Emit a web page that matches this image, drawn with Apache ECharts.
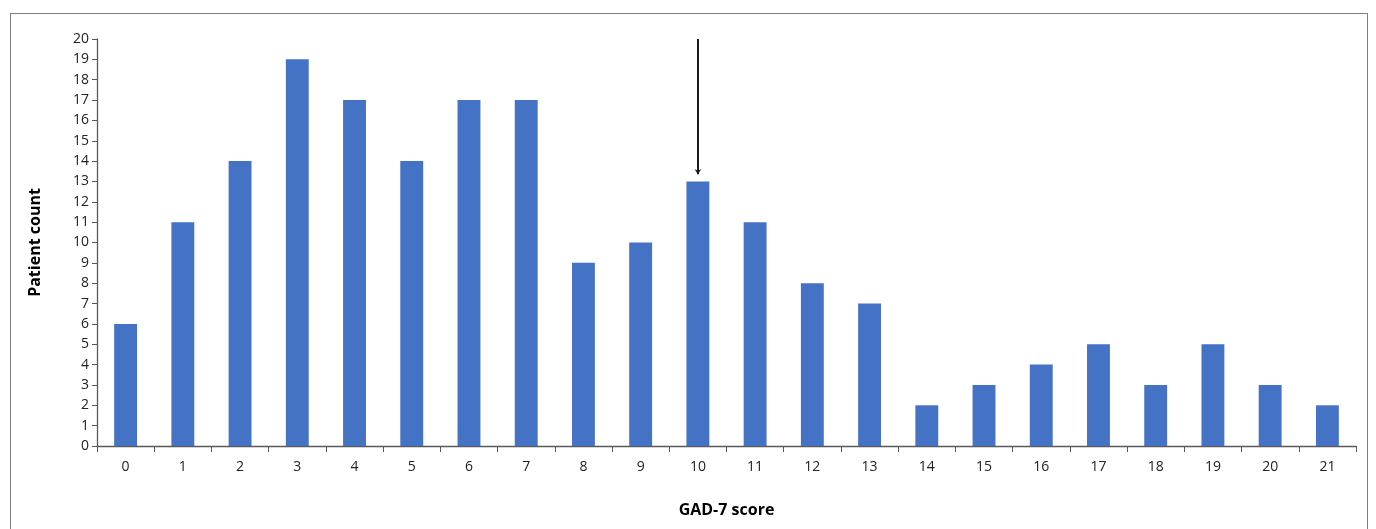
<!DOCTYPE html>
<html>
<head>
<meta charset="utf-8">
<script src="https://cdn.jsdelivr.net/npm/echarts@6/dist/echarts.min.js"></script>
<style>
  html, body { margin: 0; padding: 0; background: #fff; }
  #frame { position: absolute; left: 10px; top: 13px; width: 1356px; height: 530px; border: 1px solid #7f7f7f; }
  #chart { position: absolute; left: 0; top: 0; width: 1376px; height: 529px; }
</style>
</head>
<body>
<div id="frame"></div>
<div id="chart"></div>
<script>
// GAD-7 score categories and patient counts
const scores = ['0','1','2','3','4','5','6','7','8','9','10','11','12','13','14','15','16','17','18','19','20','21']
const patientCounts = [6, 11, 14, 19, 17, 14, 17, 17, 9, 10, 13, 11, 8, 7, 2, 3, 4, 5, 3, 5, 3, 2]
// arrow marks the cut-off score
const cutoffScore = '10'
const arrowFrom = 20
const arrowTo = 13.35

const font = '"Open Sans", "Noto Sans", sans-serif'
const axisColor = '#595959'

const chart = echarts.init(document.getElementById('chart'))
chart.setOption({
  animation: false,
  grid: { left: 97, right: 20, top: 39, bottom: 83 },
  xAxis: {
    type: 'category',
    data: scores,
    name: 'GAD-7 score',
    nameLocation: 'middle',
    nameGap: 56,
    nameTextStyle: { fontFamily: font, fontSize: 16, fontWeight: 'bold', color: '#000' },
    axisLine: { lineStyle: { color: axisColor, width: 1.3 } },
    axisTick: { show: true, length: 6, alignWithLabel: false, lineStyle: { color: axisColor } },
    axisLabel: { fontFamily: font, fontSize: 14, color: '#222', margin: 14 }
  },
  yAxis: {
    type: 'value',
    min: 0,
    max: 20,
    interval: 1,
    name: 'Patient count',
    nameLocation: 'middle',
    nameGap: 54,
    nameTextStyle: { fontFamily: font, fontSize: 16, fontWeight: 'bold', color: '#000' },
    axisLine: { show: true, lineStyle: { color: axisColor, width: 1.3 } },
    axisTick: { show: true, length: 5, lineStyle: { color: axisColor } },
    axisLabel: { fontFamily: font, fontSize: 14, color: '#222', margin: 8 },
    splitLine: { show: false }
  },
  series: [{
    type: 'bar',
    data: patientCounts,
    barWidth: '40%',
    itemStyle: { color: '#4472C4' },
    markLine: {
      silent: true,
      symbol: ['none', 'arrow'],
      symbolSize: [5, 5],
      label: { show: false },
      lineStyle: { color: '#1a1a1a', width: 2, type: 'solid' },
      data: [[{ coord: [cutoffScore, arrowFrom] }, { coord: [cutoffScore, arrowTo] }]]
    }
  }]
})
</script>
</body>
</html>
